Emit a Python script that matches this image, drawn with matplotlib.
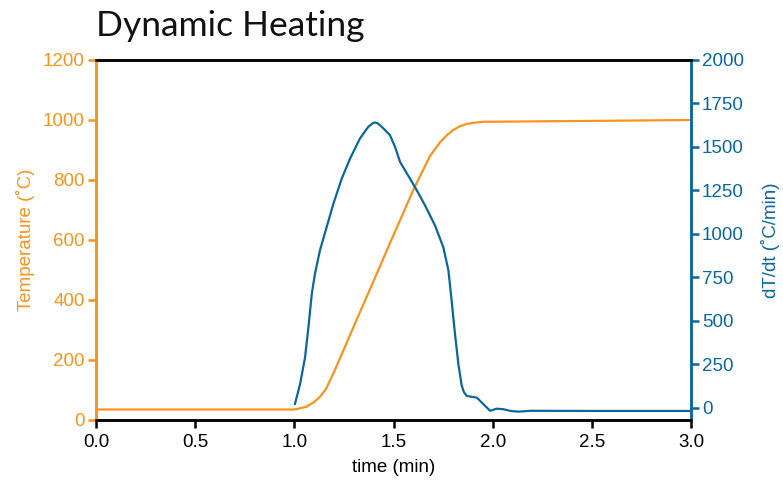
import matplotlib
matplotlib.use("Agg")
import matplotlib.pyplot as plt
import numpy as np

# Data
temp_t = [0.0, 1.0, 1.06, 1.1, 1.13, 1.16, 1.2, 1.25, 1.314, 1.4, 1.482, 1.6, 1.684, 1.735, 1.77, 1.802, 1.835, 1.869, 1.91, 1.953, 2.5, 3.0]
temp_v = [35, 35, 44, 60, 78, 104, 160, 236, 334, 464, 589, 767, 880, 926, 950, 967, 979, 987, 991, 994, 997, 1000]

rate_t = [1.003, 1.029, 1.054, 1.071, 1.088, 1.104, 1.129, 1.163, 1.197, 1.239, 1.281, 1.331, 1.373, 1.395, 1.407,
          1.42, 1.441, 1.482, 1.508, 1.533, 1.558, 1.608, 1.659, 1.709, 1.751, 1.777, 1.793, 1.81, 1.827, 1.844,
          1.856, 1.869, 1.894, 1.92, 1.953, 1.987, 2.02, 2.054, 2.09, 2.13, 2.19, 2.5, 3.0]
rate_v = [21, 137, 290, 463, 655, 771, 905, 1039, 1174, 1318, 1433, 1549, 1616, 1636, 1641,
          1636, 1616, 1568, 1500, 1414, 1366, 1270, 1164, 1049, 924, 790, 617, 425, 252, 127,
          88, 69, 63, 59, 21, -17, -5, -8, -18, -22, -17, -18, -18]

xticks = [0.0, 0.5, 1.0, 1.5, 2.0, 2.5, 3.0]
lticks = [0, 200, 400, 600, 800, 1000, 1200]
rticks = [0, 250, 500, 750, 1000, 1250, 1500, 1750, 2000]

ORANGE = "#F7941D"
BLUE = "#0A679E"
tickfont = ["Liberation Sans Narrow", "Liberation Sans", "DejaVu Sans"]

fig = plt.figure(figsize=(7.83, 4.84), dpi=100)
ax = fig.add_axes([96/783, 64/484, (691-96)/783, 360/484])
ax2 = ax.twinx()

ax.plot(temp_t, temp_v, color=ORANGE, lw=1.6, solid_joinstyle="round", solid_capstyle="round")
ax2.plot(rate_t, rate_v, color=BLUE, lw=1.6, solid_joinstyle="round", solid_capstyle="round")

ax.set_xlim(0, 3.0)
ax.set_ylim(0, 1200)
ax2.set_ylim(-70, 2000)
ax.set_xticks(xticks)
ax.set_xticklabels([f"{v:.1f}" for v in xticks], fontsize=13.5, family=tickfont)
ax.set_yticks(lticks)
ax.set_yticklabels([str(v) for v in lticks], fontsize=13.5, family=tickfont, color=ORANGE)
ax2.set_yticks(rticks)
ax2.set_yticklabels([str(v) for v in rticks], fontsize=13.5, family=tickfont, color=BLUE)

for a in (ax, ax2):
    for s in a.spines.values():
        s.set_linewidth(1.8)
    a.spines["top"].set_color("black")
    a.spines["bottom"].set_color("black")
    a.spines["left"].set_color(ORANGE)
    a.spines["right"].set_color(BLUE)

ax.tick_params(axis="x", direction="out", length=6, width=1.8, color="black", pad=4)
ax.tick_params(axis="y", direction="out", length=6, width=1.8, color=ORANGE, pad=2)
ax2.tick_params(axis="y", direction="out", length=6, width=1.8, color=BLUE, pad=2)

ax.set_xlabel("time (min)", fontsize=13.5, family=tickfont, labelpad=6)
ax.set_ylabel("Temperature (˚C)", fontsize=13.5, family=tickfont, color=ORANGE, labelpad=6)
ax2.set_ylabel("dT/dt (˚C/min)", fontsize=13.5, family=tickfont, color=BLUE, labelpad=12)

fig.text(96/783, 1 - 26/484, "Dynamic Heating", fontsize=25.5, family=["Lato", "DejaVu Sans"],
         fontweight="normal", ha="left", va="center", color="#111111")

fig.savefig("out.png", dpi=100)
